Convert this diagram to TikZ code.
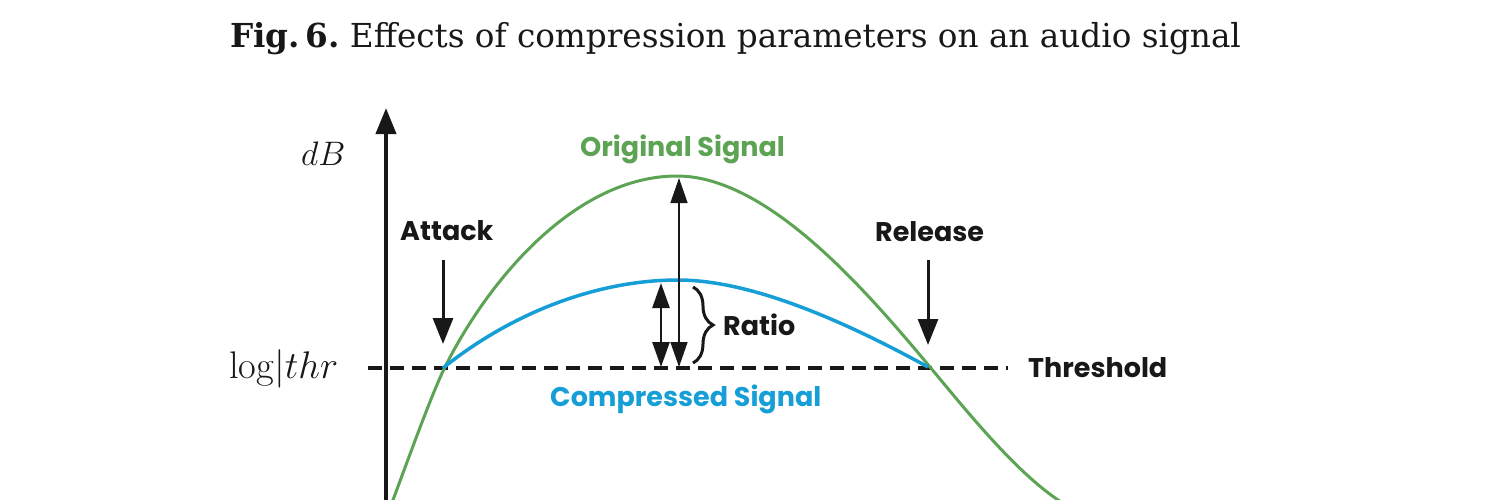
\RequirePackage{fix-cm}
\documentclass[tikz,border=0pt]{standalone}
\usepackage{fontspec}
\usetikzlibrary{arrows.meta,decorations.pathreplacing}
\newfontfamily\labfont{Poppins}[UprightFont=* SemiBold, BoldFont=* Bold]
\newfontfamily\titlefont{DejaVu Serif}
\definecolor{sigGreen}{RGB}{92,164,84}
\definecolor{sigBlue}{RGB}{22,158,214}
\definecolor{ink}{RGB}{24,24,24}
\tikzset{
  lab/.style={font=\labfont\bfseries\fontsize{27}{30}\selectfont, inner sep=0pt, anchor=base west},
  bigtip/.style={-{Triangle[width=20pt,length=26pt]}},
  smalltips/.style={{Triangle[width=17pt,length=25pt]}-{Triangle[width=17pt,length=25pt]}},
}
\begin{document}
\begin{tikzpicture}[x=1pt,y=-1pt]
\useasboundingbox (0,0) rectangle (1500,499);
\clip (0,0) rectangle (1500,499);
% title
\node[anchor=base west, inner sep=0pt, text=ink] (title) at (230,47)
  {\scalebox{0.99}[1]{\frenchspacing\titlefont\fontsize{33}{36}\selectfont\textbf{Fig.\,6.} Effects of compression parameters on an audio signal}};
% named points
\coordinate (axb) at (386,505);
\coordinate (axt) at (386,108);
\coordinate (thl) at (368,368);
\coordinate (thr) at (1008,368);
\coordinate (atks) at (443,260);
\coordinate (atke) at (443,344);
\coordinate (rels) at (928,260);
\coordinate (rele) at (928,345);
\coordinate (lta) at (679,178);
\coordinate (ltb) at (679,367);
\coordinate (sta) at (661,283);
\coordinate (stb) at (661,367);
\coordinate (bra) at (693,287);
\coordinate (brb) at (693,363);
\coordinate (gs) at (391,505);
\coordinate (ga) at (445,367);
\coordinate (gp) at (677,176);
\coordinate (gr) at (930,367);
\coordinate (ge) at (1066,505);
\coordinate (ba) at (443,368);
\coordinate (bp) at (678,280);
\coordinate (br) at (928,367);
% axis
\draw[ink, line width=4pt, bigtip] (axb) -- (axt);
% threshold dashed
\draw[ink, line width=3.5pt, dash pattern=on 14pt off 8pt] (thl) -- (thr);
% original signal
\draw[sigGreen, line width=3pt]
  (gs) .. controls (399,485) and (430,397) .. (ga)
       .. controls (490,277) and (577,176) .. (gp)
       .. controls (767,176) and (865,289) .. (gr)
       .. controls (965,409) and (1020,478) .. (ge);
% compressed signal
\draw[sigBlue, line width=3.5pt]
  (ba) .. controls (513,312) and (598,280) .. (bp)
       .. controls (748,280) and (838,317.5) .. (br);
% attack / release arrows
\draw[ink, line width=3pt, bigtip] (atks) -- (atke);
\draw[ink, line width=3pt, bigtip] (rels) -- (rele);
% ratio arrows
\draw[ink, line width=1.5pt, smalltips] (ltb) -- (lta);
\draw[ink, line width=2.6pt, smalltips] (stb) -- (sta);
\draw[ink, line width=3pt, decorate, decoration={brace, amplitude=20pt}] (bra) -- (brb);
% labels
\node[lab, text=sigGreen] (orig) at (580,156) {Original Signal};
\node[lab, text=sigBlue] (comp) at (550,406) {Compressed Signal};
\node[lab, text=ink] (attack) at (400,240) {Attack};
\node[lab, text=ink] (release) at (875,241) {Release};
\node[lab, text=ink] (thresh) at (1028,377) {Threshold};
\node[lab, text=ink] (ratio) at (723,335) {Ratio};
\node[anchor=base west, inner sep=0pt, text=ink] (db) at (301,165) {\fontsize{34}{38}\selectfont$dB$};
\node[anchor=base west, inner sep=0pt, text=ink] (logthr) at (229,378) {\fontsize{38.5}{42}\selectfont$\mathrm{log}|thr$};
\end{tikzpicture}
\end{document}
